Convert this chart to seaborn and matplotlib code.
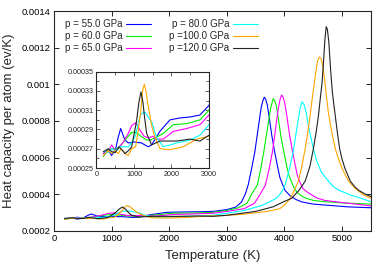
import numpy as np
import pandas as pd
import matplotlib
matplotlib.use("Agg")
import matplotlib.pyplot as plt
import seaborn as sns
from matplotlib.ticker import FixedLocator, FuncFormatter, MultipleLocator

# ---------------- data ----------------
labels = ["p = 55.0 GPa", "p = 60.0 GPa", "p = 65.0 GPa",
          "p = 80.0 GPa", "p =100.0 GPa", "p =120.0 GPa"]
colors = ["#0000ff", "#00ee00", "#ff00ff", "#00ffff", "#ffa500", "#222222"]

T_55 = [180, 320, 400, 500, 580, 645, 700, 760, 850, 1000, 1200, 1380, 1470, 1690,
        1960, 2230, 2500, 2760, 3000, 3150, 3250, 3320, 3370, 3430, 3485, 3530,
        3570, 3600, 3625, 3648, 3672, 3700, 3735, 3780, 3830, 3880, 3920, 3970,
        4010, 4100, 4200, 4300, 4500, 4700, 5100, 5500]
C_55 = [0.000265, 0.000269, 0.000263, 0.000268, 0.000282, 0.000291, 0.000285,
        0.000279, 0.000276, 0.000277, 0.000276, 0.000272, 0.000274, 0.000288,
        0.000300, 0.000302, 0.000303, 0.000305, 0.000315, 0.000328, 0.000355,
        0.000400, 0.000450, 0.000540, 0.000630, 0.000730, 0.000820, 0.000880,
        0.000910, 0.000930, 0.000920, 0.000890, 0.000820, 0.000720, 0.000630,
        0.000550, 0.000490, 0.000450, 0.000420, 0.000390, 0.000370, 0.000357,
        0.000345, 0.000340, 0.000330, 0.000325]

T_60 = [182, 316, 450, 582, 700, 849, 938, 1045, 1187, 1340, 1427, 1600, 1782,
        2049, 2405, 2760, 3000, 3200, 3350, 3430, 3530, 3590, 3640, 3690, 3730,
        3760, 3785, 3805, 3830, 3860, 3895, 3940, 3990, 4040, 4080, 4130, 4170,
        4250, 4350, 4500, 4700, 5100, 5500]
C_60 = [0.000262, 0.000269, 0.000270, 0.000270, 0.000276, 0.000283, 0.000287,
        0.000287, 0.000283, 0.000279, 0.000279, 0.000282, 0.000286, 0.000295,
        0.000296, 0.000300, 0.000310, 0.000325, 0.000350, 0.000400, 0.000450,
        0.000540, 0.000630, 0.000730, 0.000810, 0.000870, 0.000900, 0.000922,
        0.000910, 0.000880, 0.000810, 0.000710, 0.000630, 0.000550, 0.000500,
        0.000460, 0.000430, 0.000400, 0.000380, 0.000365, 0.000358, 0.000350,
        0.000345]

T_65 = [182, 316, 404, 500, 700, 849, 938, 1045, 1150, 1270, 1400, 1500, 1600,
        1782, 2049, 2405, 2760, 3000, 3300, 3480, 3580, 3670, 3735, 3790, 3835,
        3870, 3900, 3925, 3951, 3975, 4003, 4040, 4085, 4135, 4185, 4225, 4275,
        4320, 4400, 4450, 4550, 4700, 5100, 5500]
C_65 = [0.000265, 0.000267, 0.000274, 0.000268, 0.000276, 0.000286, 0.000294,
        0.000297, 0.000290, 0.000283, 0.000281, 0.000283, 0.000280, 0.000280,
        0.000288, 0.000291, 0.000295, 0.000305, 0.000320, 0.000350, 0.000400,
        0.000450, 0.000540, 0.000630, 0.000730, 0.000820, 0.000880, 0.000920,
        0.000942, 0.000930, 0.000900, 0.000830, 0.000730, 0.000640, 0.000560,
        0.000500, 0.000460, 0.000430, 0.000410, 0.000400, 0.000380, 0.000365,
        0.000350, 0.000335]

T_80 = [182, 316, 404, 500, 600, 760, 849, 938, 1045, 1116, 1187, 1293, 1382,
        1470, 1600, 1782, 2138, 2493, 2760, 3000, 3300, 3630, 3860, 3950, 4010,
        4080, 4150, 4200, 4240, 4270, 4305, 4340, 4380, 4430, 4500, 4560, 4640,
        4764, 4850, 4950, 5143, 5300, 5500]
C_80 = [0.000267, 0.000266, 0.000270, 0.000268, 0.000272, 0.000272, 0.000272,
        0.000276, 0.000284, 0.000297, 0.000306, 0.000308, 0.000303, 0.000298,
        0.000282, 0.000272, 0.000276, 0.000279, 0.000284, 0.000295, 0.000310,
        0.000340, 0.000377, 0.000410, 0.000450, 0.000530, 0.000630, 0.000730,
        0.000810, 0.000870, 0.000905, 0.000890, 0.000840, 0.000750, 0.000650,
        0.000580, 0.000520, 0.000470, 0.000440, 0.000420, 0.000395, 0.000380,
        0.000358]

T_100 = [182, 316, 404, 500, 582, 660, 760, 849, 938, 1045, 1116, 1178, 1230,
         1275, 1320, 1364, 1471, 1542, 1693, 1960, 2315, 2672, 3000, 3300, 3700,
         3920, 4000, 4096, 4170, 4240, 4300, 4360, 4405, 4445, 4480, 4515, 4545,
         4575, 4608, 4635, 4665, 4700, 4730, 4764, 4820, 4880, 4940, 5000, 5113,
         5230, 5375, 5500]
C_100 = [0.000263, 0.000268, 0.000265, 0.000268, 0.000265, 0.000270, 0.000265,
         0.000263, 0.000270, 0.000272, 0.000290, 0.000308, 0.000330, 0.000337,
         0.000330, 0.000318, 0.000294, 0.000284, 0.000270, 0.000269, 0.000272,
         0.000280, 0.000283, 0.000290, 0.000305, 0.000320, 0.000340, 0.000375,
         0.000420, 0.000470, 0.000550, 0.000650, 0.000740, 0.000830, 0.000920,
         0.001000, 0.001070, 0.001130, 0.001150, 0.001140, 0.001100, 0.001020,
         0.000930, 0.000840, 0.000740, 0.000650, 0.000590, 0.000540, 0.000470,
         0.000430, 0.000395, 0.000377]

T_120 = [182, 316, 404, 500, 600, 700, 760, 850, 938, 1070, 1130, 1187, 1240,
         1275, 1337, 1426, 1470, 1693, 2138, 2493, 2760, 3000, 3500, 3800, 4000,
         4125, 4250, 4358, 4440, 4503, 4550, 4590, 4620, 4649, 4675, 4700, 4724,
         4745, 4770, 4800, 4830, 4860, 4881, 4920, 4956, 5000, 5050, 5143, 5220,
         5288, 5400, 5500]
C_120 = [0.000267, 0.000270, 0.000267, 0.000266, 0.000272, 0.000268, 0.000265,
         0.000268, 0.000272, 0.000299, 0.000318, 0.000329, 0.000318, 0.000305,
         0.000286, 0.000278, 0.000274, 0.000278, 0.000278, 0.000280, 0.000278,
         0.000284, 0.000305, 0.000330, 0.000360, 0.000377, 0.000420, 0.000470,
         0.000550, 0.000650, 0.000740, 0.000830, 0.000920, 0.001000, 0.001110,
         0.001240, 0.001316, 0.001300, 0.001230, 0.001080, 0.000960, 0.000880,
         0.000830, 0.000730, 0.000650, 0.000590, 0.000540, 0.000470, 0.000440,
         0.000420, 0.000400, 0.000386]

series_T = [T_55, T_60, T_65, T_80, T_100, T_120]
series_C = [C_55, C_60, C_65, C_80, C_100, C_120]

main_xticks = [0, 1000, 2000, 3000, 4000, 5000]
main_yticks = [0.0002, 0.0004, 0.0006, 0.0008, 0.001, 0.0012, 0.0014]
inset_xticks = [0, 1000, 2000, 3000]
inset_yticks = [0.00025, 0.00027, 0.00029, 0.00031, 0.00033, 0.00035]

# ---------------- figure ----------------
sns.set_style("ticks")
plt.rcParams["font.family"] = ["Liberation Sans", "DejaVu Sans"]
plt.rcParams["axes.linewidth"] = 0.8

fig = plt.figure(figsize=(3.82, 2.73), dpi=100)
ax = fig.add_axes([0.1414, 0.1553, 0.8296, 0.8033])
axin = fig.add_axes([0.2526, 0.3846, 0.2944, 0.3528])

frames = []
for lab, T, C in zip(labels, series_T, series_C):
    frames.append(pd.DataFrame({"T": T, "Cp": C, "p": lab}))
df = pd.concat(frames, ignore_index=True)
palette = dict(zip(labels, colors))

sns.lineplot(data=df, x="T", y="Cp", hue="p", palette=palette, sort=False,
             estimator=None, linewidth=0.8, ax=ax)
sns.lineplot(data=df, x="T", y="Cp", hue="p", palette=palette, sort=False,
             estimator=None, linewidth=0.8, ax=axin, legend=False)

fmt = FuncFormatter(lambda v, pos: "%g" % round(v, 7))

ax.set_xlim(0, 5500)
ax.set_ylim(0.0002, 0.0014)
ax.xaxis.set_major_locator(FixedLocator(main_xticks))
ax.yaxis.set_major_locator(FixedLocator(main_yticks))
ax.xaxis.set_major_formatter(fmt)
ax.yaxis.set_major_formatter(fmt)
ax.tick_params(direction="in", length=3.5, width=0.6, labelsize=6.8, pad=2.5,
               top=True, right=True, colors="black")
ax.set_xlabel("Temperature (K)", fontsize=9.5, labelpad=5)
ax.set_ylabel("Heat capacity per atom (ev/K)", fontsize=9.5, labelpad=5)

axin.set_xlim(0, 3000)
axin.set_ylim(0.00025, 0.00035)
axin.xaxis.set_major_locator(FixedLocator(inset_xticks))
axin.yaxis.set_major_locator(FixedLocator(inset_yticks))
axin.xaxis.set_minor_locator(MultipleLocator(500))
axin.yaxis.set_minor_locator(MultipleLocator(0.00001))
axin.xaxis.set_major_formatter(fmt)
axin.yaxis.set_major_formatter(fmt)
axin.tick_params(which="both", direction="in", width=0.5, labelsize=5.2, pad=2,
                 top=True, right=True)
axin.tick_params(which="major", length=3)
axin.tick_params(which="minor", length=2)
axin.set_xlabel("")
axin.set_ylabel("")

handles, labs = ax.get_legend_handles_labels()
ax.legend(handles, labs, ncol=2, frameon=False, markerfirst=False,
          loc="upper left", bbox_to_anchor=(0.015, 0.99), fontsize=7,
          handlelength=2.6, handletextpad=0.4, columnspacing=1.8,
          labelspacing=0.2, borderaxespad=0.2)

fig.savefig("out.png", dpi=100)
